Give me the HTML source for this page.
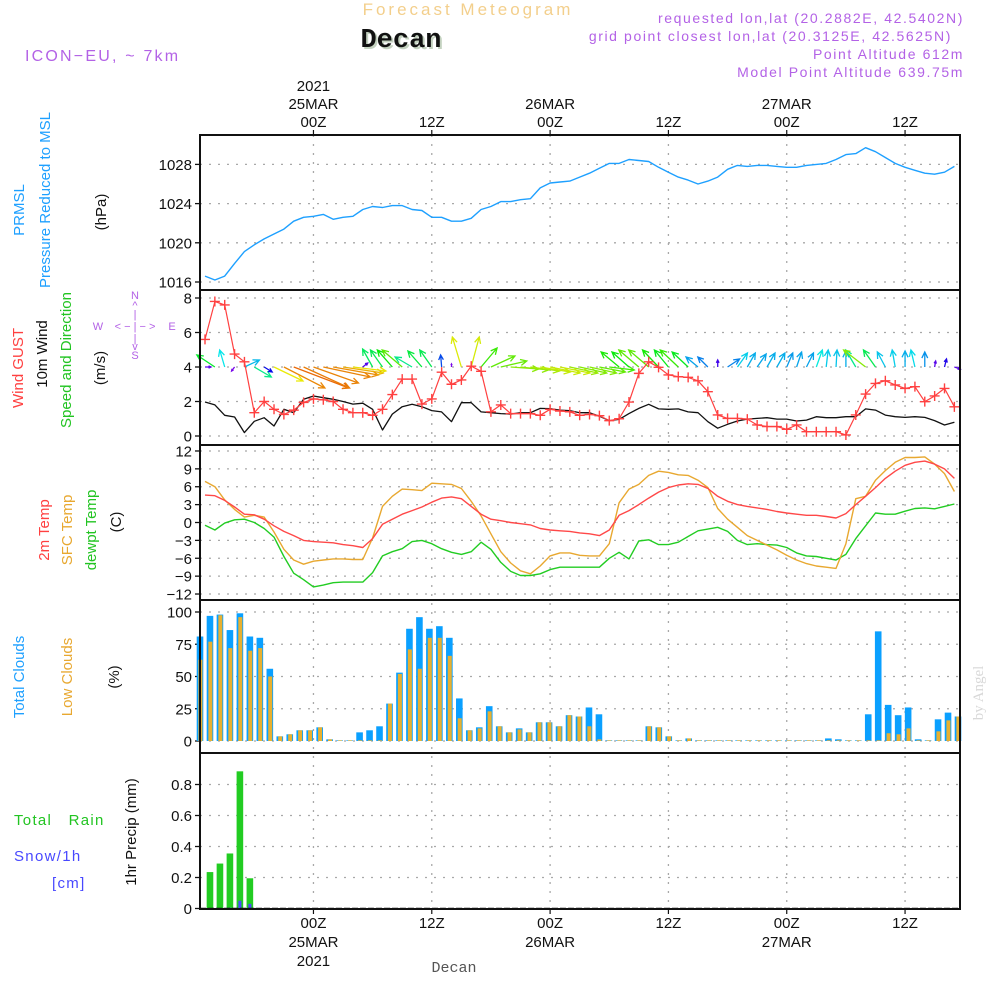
<!DOCTYPE html>
<html><head><meta charset="utf-8"><title>Forecast Meteogram Decan</title>
<style>
html,body{margin:0;padding:0;background:#fff;}
svg{display:block;}
text{font-family:"Liberation Sans",sans-serif;}
.tk{font-size:15px;fill:#111;}
.hd{font-size:14px;fill:#b362e6;letter-spacing:1.6px;}
</style></head>
<body>
<svg id="chart" width="1000" height="1000" viewBox="0 0 1000 1000" xmlns="http://www.w3.org/2000/svg">
<text x="468" y="15" text-anchor="middle" font-size="17" fill="#f3cf8c" letter-spacing="3">Forecast Meteogram</text>
<text x="403" y="49" text-anchor="middle" style="font-family:'Liberation Mono',monospace;font-weight:bold;font-size:27px" fill="#c4d2c0">Decan</text>
<text x="401" y="47" text-anchor="middle" style="font-family:'Liberation Mono',monospace;font-weight:bold;font-size:27px" fill="#111">Decan</text>
<text x="25" y="61" font-size="16" fill="#b362e6" letter-spacing="2.2">ICON−EU, ~ 7km</text>
<text class="hd" x="964" y="23" text-anchor="end">requested lon,lat (20.2882E, 42.5402N)</text>
<text class="hd" x="952" y="41" text-anchor="end">grid point closest lon,lat (20.3125E, 42.5625N)</text>
<text class="hd" x="964" y="59" text-anchor="end">Point Altitude 612m</text>
<text class="hd" x="964" y="77" text-anchor="end">Model Point Altitude 639.75m</text>

<g font-size="15">
<text transform="translate(24,210) rotate(-90)" text-anchor="middle" fill="#1ea0ff">PRMSL</text>
<text transform="translate(50,200) rotate(-90)" text-anchor="middle" fill="#1ea0ff">Pressure Reduced to MSL</text>
<text transform="translate(106,212) rotate(-90)" text-anchor="middle" fill="#111">(hPa)</text>
<text transform="translate(23,368) rotate(-90)" text-anchor="middle" fill="#ff4040">Wind GUST</text>
<text transform="translate(47,354) rotate(-90)" text-anchor="middle" fill="#111">10m Wind</text>
<text transform="translate(71,360) rotate(-90)" text-anchor="middle" fill="#22c422">Speed and Direction</text>
<text transform="translate(105,368) rotate(-90)" text-anchor="middle" fill="#111">(m/s)</text>
<text transform="translate(49,530) rotate(-90)" text-anchor="middle" fill="#ff4040">2m Temp</text>
<text transform="translate(72,530) rotate(-90)" text-anchor="middle" fill="#e8a830">SFC Temp</text>
<text transform="translate(96,530) rotate(-90)" text-anchor="middle" fill="#22c422">dewpt Temp</text>
<text transform="translate(121,522) rotate(-90)" text-anchor="middle" fill="#111">(C)</text>
<text transform="translate(24,677) rotate(-90)" text-anchor="middle" fill="#1ea0ff">Total Clouds</text>
<text transform="translate(72,677) rotate(-90)" text-anchor="middle" fill="#e8a830">Low Clouds</text>
<text transform="translate(119,677) rotate(-90)" text-anchor="middle" fill="#111">(%)</text>
<text transform="translate(136,832) rotate(-90)" text-anchor="middle" fill="#111">1hr Precip (mm)</text>
<text x="14" y="825" fill="#22c422" letter-spacing="1.3">Total&#160;&#160;&#160;Rain</text>
<text x="14" y="861" fill="#4848ff" letter-spacing="1.3">Snow/1h</text>
<text x="52" y="888" fill="#4848ff" letter-spacing="1.3">[cm]</text>
</g>
<g fill="#b362e6" font-size="11" text-anchor="middle">
<text x="135" y="299">N</text><text x="135" y="309">^</text><text x="135" y="318">|</text>
<text x="98" y="330">W</text><text x="135" y="330">&lt; − | − &gt;</text><text x="172" y="330">E</text>
<text x="135" y="342">|</text><text x="135" y="350">v</text><text x="135" y="359">S</text>
</g>
<text transform="translate(983,693) rotate(-90)" text-anchor="middle" style="font-family:'Liberation Serif',serif;font-size:15px" fill="#d8d8d8">by Angel</text>
<text x="454" y="972" text-anchor="middle" style="font-family:'Liberation Mono',monospace;font-size:15px" fill="#555">Decan</text>
<g id="plot"></g>
</svg>
<script>
// ---- data (hourly from 24MAR 13Z) ----
const timeTickHours = [11, 23, 35, 47, 59, 71];
const timeTickLabels = ["00Z", "12Z", "00Z", "12Z", "00Z", "12Z"];
const dayLabels = ["25MAR", "", "26MAR", "", "27MAR", ""];
const pressure = [1016.6,1016.2,1016.6,1017.9,1019.1,1019.8,1020.4,1020.9,1021.4,1022.2,1022.6,1022.7,1022.9,1022.4,1022.6,1022.7,1023.4,1023.7,1023.6,1023.8,1023.8,1023.4,1023.3,1022.6,1022.6,1022.2,1022.2,1022.5,1023.4,1023.7,1024.2,1024.2,1024.4,1024.5,1025.6,1026.1,1026.2,1026.3,1026.7,1027.1,1027.6,1028.1,1028.1,1028.5,1028.4,1028.3,1027.7,1027.2,1026.7,1026.4,1026.0,1026.3,1026.7,1027.5,1027.9,1027.8,1027.9,1027.9,1027.8,1027.7,1027.7,1027.9,1028.0,1028.1,1028.5,1029.0,1029.1,1029.7,1029.3,1028.7,1028.1,1027.7,1027.4,1027.1,1027.0,1027.2,1027.8];
const pressureTicks = [1016, 1020, 1024, 1028];
const gust = [5.6,7.8,7.6,4.75,4.3,1.35,2.0,1.55,1.25,1.5,1.95,2.15,2.1,2.0,1.55,1.35,1.35,1.2,1.55,2.4,3.3,3.3,1.85,2.15,3.7,3.0,3.25,4.05,3.75,1.4,1.8,1.3,1.3,1.3,1.2,1.55,1.45,1.4,1.2,1.25,1.18,0.89,1.0,1.97,3.63,4.3,3.98,3.54,3.44,3.4,3.2,2.57,1.22,1.02,1.02,0.98,0.64,0.55,0.55,0.39,0.64,0.25,0.25,0.25,0.25,0.06,1.22,2.43,3.05,3.2,2.96,2.76,2.86,1.99,2.32,2.76,1.69];
const wind10m = [1.97,1.8,1.2,1.1,0.2,0.85,1.06,0.58,1.55,1.35,2.13,2.32,2.22,2.13,2.0,1.85,1.9,1.55,0.35,1.27,1.7,1.84,1.7,1.47,1.4,0.83,1.93,1.93,1.4,1.35,1.3,1.27,1.35,1.35,1.6,1.58,1.5,1.47,1.35,1.35,1.15,0.89,0.96,1.3,1.6,1.84,1.57,1.55,1.57,1.4,1.35,0.83,0.45,0.68,0.87,0.98,1.02,1.06,0.98,0.98,0.87,0.92,1.12,1.06,1.06,1.12,1.12,1.57,1.5,1.21,1.12,1.08,1.12,1.08,0.89,0.64,0.8];
const windTicks = [0, 2, 4, 6, 8];
const windU = [6,-18,-5,-3,15,17,8,29,41,55,46,45,47,45,40,33,5,-10,-12,-15,-20,-17,-14,-12,-1,0,-9,8,16,24,26,28,28,29,30,30,30,28,27,27,26,25,-18,-17,-20,-20,-16,-14,-18,-16,-12,-10,0,12,10,8,9,8,8,6,5,7,6,2,1,0,-10,-22,-12,-8,-3,0,-4,0,1,2,6];
const windV = [0,12,17,-4,7,-10,-5,-14,-21,-21,-21,-16,-10,-8,-6,-4,4,18,17,17,17,10,16,17,12,3,30,30,19,11,6,-2,-3,-4,-5,-6,-6,-6,-6,-6,-5,-3,15,15,17,17,17,17,17,15,10,10,7,8,14,14,13,14,14,14,15,14,17,17,17,16,17,17,17,15,17,16,17,15,6,8,-2];
const temp2m = [4.6,4.5,3.7,2.6,1.4,1.3,0.55,-0.55,-1.5,-2.2,-3.0,-3.2,-3.3,-3.4,-3.7,-3.9,-4.2,-2.7,-0.3,0.55,1.4,2.0,2.6,3.4,4.1,4.3,4.0,2.7,1.4,0.55,0.3,0,-0.2,-0.4,-1.0,-1.25,-1.4,-1.5,-1.75,-1.9,-2.2,-1.25,1.2,2.0,3.0,4.1,5.1,5.85,6.3,6.5,6.4,5.7,4.4,3.55,3.0,2.7,2.45,2.2,1.85,1.6,1.4,1.2,1.2,1.0,0.75,1.5,3.0,4.4,5.85,7.4,8.6,9.6,10.1,10.3,9.8,9.0,7.4];
const sfcTemp = [6.9,6.0,3.8,2.2,0.9,1.2,0.9,-1.6,-4.5,-6.3,-7.0,-6.5,-6.3,-6.1,-6.1,-6.2,-6.2,-2.6,2.7,4.4,5.6,5.5,5.35,6.6,6.5,6.4,5.7,3.55,1.1,-1.9,-4.9,-6.8,-8.1,-8.6,-7.3,-5.6,-5.1,-5.1,-5.5,-5.6,-5.6,-3.55,3.3,5.6,6.4,7.9,8.6,8.4,8.0,7.9,7.1,5.85,2.35,0.55,-0.8,-2.2,-3.0,-3.8,-4.6,-5.5,-6.3,-6.9,-7.3,-7.5,-7.7,-3.55,4.0,4.4,7.1,8.7,10.1,10.9,10.9,11.0,9.8,8.2,5.2];
const dewpt = [-0.45,-1.25,-0.1,0.45,0.55,0,-1.0,-2.45,-5.7,-8.5,-9.6,-10.8,-10.5,-10.1,-10.0,-10.0,-10.0,-8.4,-5.6,-4.9,-4.4,-3.2,-3.0,-3.55,-4.4,-5.0,-5.35,-4.9,-3.3,-4.5,-6.7,-8.2,-8.9,-8.9,-8.6,-7.9,-7.5,-7.5,-7.5,-7.5,-7.5,-6.0,-5.0,-6.1,-3.1,-2.9,-3.7,-3.7,-3.3,-2.35,-1.4,-1.1,-0.8,-1.5,-3.0,-3.7,-3.55,-3.7,-3.8,-4.2,-5.1,-5.6,-5.7,-6.0,-6.3,-5.35,-2.7,-0.55,1.6,1.4,1.4,1.9,2.35,2.45,2.3,2.7,3.1];
const tempTicks = [-12, -9, -6, -3, 0, 3, 6, 9, 12];
const totalClouds = [81,97,98,86,99,81,80,56,3.6,5.2,8.3,8.3,10.6,1.3,0.5,0.5,6.7,8.3,11.4,29,53,87,96,87,89,80,33,8.3,10.6,27,11.4,6.7,9.8,6.7,14.5,14.5,11.4,20,19,26,20.7,0.5,0.5,0.5,0.5,11.4,10.6,3.6,0.5,2,0.5,0.5,0.5,0.5,0.5,0.5,0.5,0.5,0.5,0.5,0.5,0.5,0.5,2,1.3,0.5,0.5,20.7,85,28,20,26,1.3,0.5,16.8,22,19];
const lowClouds = [63,77,97.5,72,96,70,72,50,3.6,5.2,8.3,8.3,10.6,1.3,0.5,0.5,0.5,0.5,0.5,29,52,71,56,80,80,66,17.6,8.3,9.8,23,11.4,6.7,9,6.7,14.5,14.5,11.4,20,19,11.4,1.3,0.5,0.5,0.5,0.5,11.4,10.6,3.6,0.5,2,0.5,0.5,0.5,0.5,0.5,0.5,0.5,0.5,0.5,0.5,0.5,0.5,0.5,0.5,0.5,0.5,0.5,0.5,0.5,6,5.2,9.8,0.5,0.5,7.5,16,19];
const cloudTicks = [0, 25, 50, 75, 100];
const rain = [0,0.235,0.29,0.355,0.885,0.195];
const snow = [0,0,0,0.005,0.05,0.03];
const precipTicks = [0, 0.2, 0.4, 0.6, 0.8];

// ---- axes ----
const X0 = 200, X1 = 960;
const xh = h => 205 + 9.86 * h;
const xb = k => 200 + k * (758 / 76);
const yP = v => 282 - (v - 1016) * 9.8;
const yW = v => 436 - v * 17.25;
const yT = v => 522.5 - v * 5.96;
const yC = v => 741 - v * 1.29;
const yR = v => 908.5 - v * 155;
const panels = [[135, 290], [290, 445], [445, 600], [600, 753], [753, 909]];

const NS = "http://www.w3.org/2000/svg";
const plot = document.getElementById("plot");
function mk(tag, attrs, parent) {
  const e = document.createElementNS(NS, tag);
  for (const k in attrs) e.setAttribute(k, attrs[k]);
  (parent || plot).appendChild(e);
  return e;
}
const gridStyle = { stroke: "#a8a8a8", "stroke-width": 1.3, "stroke-dasharray": "2 7" };

timeTickHours.forEach((h, i) => {
  const g = mk("line", Object.assign({ x1: xh(h), x2: xh(h), y1: 135, y2: 909 }, gridStyle));
  
  
  const t = mk("line", { x1: xh(h), x2: xh(h), y1: 130, y2: 135, stroke: "#111", "stroke-width": 1.2 });
  
  
  const b = mk("line", { x1: xh(h), x2: xh(h), y1: 909, y2: 914, stroke: "#111", "stroke-width": 1.2 });
  
  
  const tl = mk("text", { x: xh(h), y: 127, "text-anchor": "middle", class: "tk" });
  tl.textContent = timeTickLabels[i];
  
  
  const bl = mk("text", { x: xh(h), y: 928, "text-anchor": "middle", class: "tk" });
  bl.textContent = timeTickLabels[i];
  
  
  if (dayLabels[i]) {
    const dl = mk("text", { x: xh(h), y: 109, "text-anchor": "middle", class: "tk" });
    dl.textContent = dayLabels[i];
    
    
    const db = mk("text", { x: xh(h), y: 947, "text-anchor": "middle", class: "tk" });
    db.textContent = dayLabels[i];
    
    
  }
  if (i === 0) {
    const yl = mk("text", { x: xh(h), y: 91, "text-anchor": "middle", class: "tk" });
    yl.textContent = "2021";
    
    
    const yb = mk("text", { x: xh(h), y: 966, "text-anchor": "middle", class: "tk" });
    yb.textContent = "2021";
    
    
  }
});

function yAxis(ticks, scale, name, fmt) {
  ticks.forEach(v => {
    const y = scale(v);
    const g = mk("line", Object.assign({ x1: X0, x2: X1, y1: y, y2: y }, gridStyle));
    
    
    const t = mk("line", { x1: 195, x2: 200, y1: y, y2: y, stroke: "#111", "stroke-width": 1.3 });
    
    
    const l = mk("text", { x: 192, y: y + 5.5, "text-anchor": "end", class: "tk" });
    l.textContent = fmt ? fmt(v) : String(v).replace("-", "−");
    
    
  });
}
yAxis(pressureTicks, yP, "pressure");
yAxis(windTicks, yW, "wind");
yAxis(tempTicks, yT, "temp");
yAxis(cloudTicks, yC, "cloud");
yAxis(precipTicks, yR, "precip", v => v === 0 ? "0" : v.toFixed(1));

function line(vals, scale, color, name, w) {
  const d = vals.map((v, i) => (i ? "L" : "M") + xh(i).toFixed(1) + " " + scale(v).toFixed(1)).join(" ");
  const p = mk("path", { d: d, fill: "none", stroke: color, "stroke-width": w || 1.4, "stroke-linejoin": "round" });
  
  
  return p;
}

line(pressure, yP, "#1ea0ff", "pressure-line");

const hueStops = [[5, 270], [10, 235], [17, 190], [22, 125], [28, 85], [32, 60], [45, 35], [60, 25]];
function hueFor(m) {
  if (m <= hueStops[0][0]) return hueStops[0][1];
  for (let i = 1; i < hueStops.length; i++) {
    if (m <= hueStops[i][0]) {
      const a = hueStops[i - 1], b = hueStops[i];
      return a[1] + (b[1] - a[1]) * (m - a[0]) / (b[0] - a[0]);
    }
  }
  return 25;
}
windU.forEach((u, i) => {
  const v = windV[i];
  const m = Math.hypot(u, v);
  if (m < 1) return;
  const x0 = xh(i), y0 = yW(4);
  const x1 = x0 + u, y1 = y0 - v;
  const col = "hsl(" + hueFor(m).toFixed(0) + ",95%,47%)";
  const ang = Math.atan2(y1 - y0, x1 - x0);
  const hl = Math.min(7, m * 0.45);
  const ha = 0.45;
  const d = "M" + x0 + " " + y0 + " L" + x1 + " " + y1 +
    " M" + (x1 - hl * Math.cos(ang - ha)) + " " + (y1 - hl * Math.sin(ang - ha)) + " L" + x1 + " " + y1 +
    " L" + (x1 - hl * Math.cos(ang + ha)) + " " + (y1 - hl * Math.sin(ang + ha));
  const a = mk("path", { d: d, fill: "none", stroke: col, "stroke-width": 1.3 });
  
  
});

line(wind10m, yW, "#111", "wind-10m-line", 1.3);
line(gust, yW, "#ff4040", "wind-gust-line", 1.2);
gust.forEach((v, i) => {
  const x = xh(i), y = yW(v);
  const p = mk("path", { d: "M" + (x - 5) + " " + y + " L" + (x + 5) + " " + y + " M" + x + " " + (y - 5) + " L" + x + " " + (y + 5), stroke: "#ff4040", "stroke-width": 1.4 });
  
  
});

line(dewpt, yT, "#22cc22", "dewpoint-line");
line(sfcTemp, yT, "#e8a830", "sfc-temp-line");
line(temp2m, yT, "#ff4848", "temp-2m-line");

totalClouds.forEach((v, k) => {
  const x = xb(k);
  const r = mk("rect", { x: x - 3.3, y: yC(v), width: 6.6, height: yC(0) - yC(v), fill: "#0aa0ff" });
  
  
  const o = mk("rect", { x: x - 1.6, y: yC(lowClouds[k]), width: 4, height: yC(0) - yC(lowClouds[k]), fill: "#e8b030" });
  
  
});

rain.forEach((v, k) => {
  if (v <= 0) return;
  const x = xb(k);
  const r = mk("rect", { x: x - 3.3, y: yR(v), width: 6.6, height: yR(0) - yR(v), fill: "#22cc22" });
  
  
});
snow.forEach((v, k) => {
  if (v <= 0) return;
  const x = xb(k);
  const r = mk("rect", { x: x - 1.5, y: yR(v), width: 3, height: yR(0) - yR(v), fill: "#4848ff" });
  
  
});
const base = mk("line", { x1: X0, x2: X1, y1: yR(0), y2: yR(0), stroke: "#111", "stroke-width": 1.6, "stroke-dasharray": "6 2" });



panels.forEach(([a, b], i) => {
  const r = mk("rect", { x: X0, y: a, width: X1 - X0, height: b - a, fill: "none", stroke: "#111", "stroke-width": 2 });
  
  
});
</script>
</body></html>
